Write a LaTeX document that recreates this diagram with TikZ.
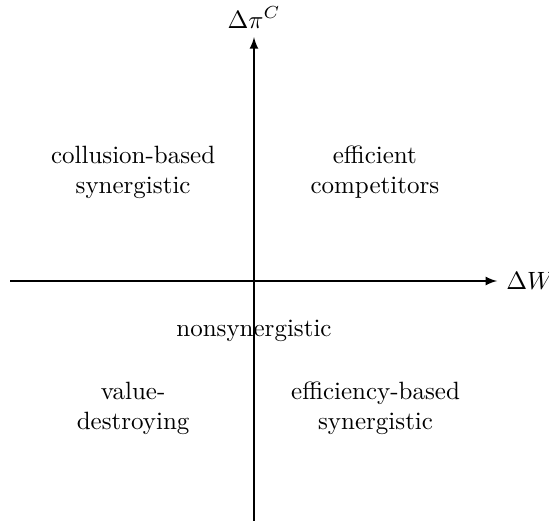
\documentclass[tikz,border=0pt]{standalone}
\usepackage{amsmath,amssymb}

\begin{document}
\begin{tikzpicture}[>=latex]
    \useasboundingbox (-3.572, -3.375) rectangle (4.149, 3.952);
    \tikzset{quad/.style={align=center}}

    % Ejes
    \coordinate (wl) at (-3.43, 0);
    \coordinate (wr) at (3.42, 0);
    \coordinate (pb) at (0, -3.375);
    \coordinate (pt) at (0, 3.43);
    \draw[->, semithick] (wl) -- (wr) node[right] (dw) {$\Delta W$};
    \draw[->, semithick] (pb) -- (pt) node[above] (dpi) {$\Delta\pi^C$};

    % Cuadrantes
    \node[quad] (cbs) at (-1.70, 1.53) {collusion-based\\synergistic};
    \node[quad] (eff) at (1.70, 1.53) {efficient\\competitors};
    \node[quad] (non) at (0, -0.70) {nonsynergistic};
    \node[quad] (vd) at (-1.70, -1.79) {value-\\destroying};
    \node[quad] (ebs) at (1.71, -1.79) {efficiency-based\\synergistic};
\end{tikzpicture}
\end{document}
